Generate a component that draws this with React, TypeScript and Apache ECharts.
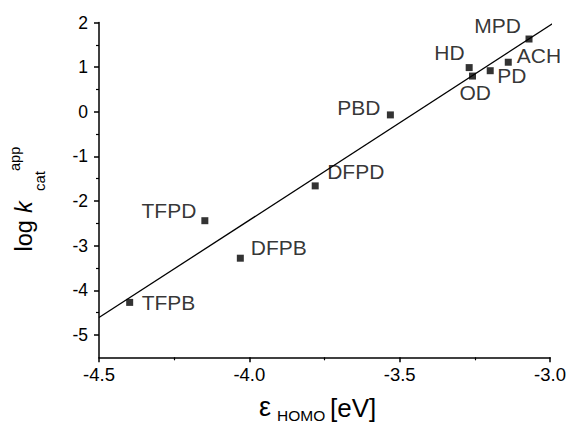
import React, { useEffect, useRef } from 'react';
import * as echarts from 'echarts';

// ---- data ----
const compounds = ['TFPB', 'TFPD', 'DFPB', 'DFPD', 'PBD', 'HD', 'OD', 'PD', 'ACH', 'MPD'];
const eHomo = [-4.398, -4.148, -4.03, -3.781, -3.531, -3.269, -3.258, -3.199, -3.139, -3.07];
const logKcat = [-4.27, -2.44, -3.28, -1.66, -0.07, 0.99, 0.8, 0.92, 1.11, 1.63];

// linear fit line end points
const fitX = [-4.5, -2.99];
const fitY = [-4.61, 1.98];

// axis ticks
const yMajorTicks = [-5, -4, -3, -2, -1, 0, 1, 2];
const yMinorTicks = [-4.5, -3.5, -2.5, -1.5, -0.5, 0.5, 1.5];

// label placement (layout only): [align, dx, dy] relative to the point
const labelPlacement: [string, number, number][] = [
  ['left', 12, 0],
  ['right', -8.5, -10],
  ['left', 10.5, -11],
  ['left', 12, -14],
  ['right', -10, -7],
  ['right', -4.5, -15],
  ['left', -13, 16],
  ['left', 7, 5],
  ['left', 8.5, -7],
  ['right', -8, -14],
];

const FONT = '"Liberation Sans", Arial, Helvetica, sans-serif';

export default function App() {
  const ref = useRef<HTMLDivElement>(null);

  useEffect(() => {
    if (!ref.current) return;
    const chart = echarts.init(ref.current, undefined, { renderer: 'svg' });

    const scatterData = compounds.map((name, i) => ({
      name,
      value: [eHomo[i], logKcat[i]],
      label: {
        align: labelPlacement[i][0],
        offset: [labelPlacement[i][1], labelPlacement[i][2]],
      },
    }));

    const axisLineStyle = { color: '#000', width: 1.5 };

    const txt = (text: string, x: number, y: number, size: number, rot = 0, italic = false) => ({
      type: 'text',
      x,
      y,
      rotation: rot,
      silent: true,
      style: {
        text,
        fontSize: size,
        fontFamily: FONT,
        fontStyle: italic ? 'italic' : 'normal',
        fill: '#000',
        align: 'left',
        textAlign: 'left',
        verticalAlign: 'middle',
        textVerticalAlign: 'middle',
      },
    });

    chart.setOption({
      animation: false,
      backgroundColor: '#fff',
      grid: { left: 99, right: 18, top: 22.5, bottom: 66.7, containLabel: false },
      xAxis: {
        type: 'value',
        min: -4.5,
        max: -3.0,
        interval: 0.5,
        splitLine: { show: false },
        axisLine: { onZero: false, lineStyle: axisLineStyle },
        axisTick: { inside: false, length: 5, lineStyle: axisLineStyle },
        minorTick: { show: true, splitNumber: 2, length: 3, lineStyle: { color: '#000', width: 1.2 } },
        minorSplitLine: { show: false },
        axisLabel: {
          formatter: (v: number) => v.toFixed(1),
          fontSize: 18.5,
          fontFamily: FONT,
          color: '#000',
          margin: 8,
        },
      },
      yAxis: [
        {
          type: 'value',
          min: -5.5,
          max: 2,
          position: 'left',
          splitLine: { show: false },
          axisLine: { show: true, onZero: false, lineStyle: axisLineStyle },
          axisTick: { show: true, inside: false, length: 5, lineStyle: axisLineStyle, customValues: yMajorTicks },
          axisLabel: {
            customValues: yMajorTicks,
            formatter: (v: number) => String(v),
            fontSize: 17.5,
            fontFamily: FONT,
            color: '#000',
            margin: 11,
          },
        },
        {
          type: 'value',
          min: -5.5,
          max: 2,
          position: 'left',
          offset: 0,
          splitLine: { show: false },
          axisLine: { show: false, onZero: false },
          axisTick: { show: true, inside: false, length: 3, lineStyle: { color: '#000', width: 1.2 }, customValues: yMinorTicks },
          axisLabel: { show: false },
        },
      ],
      graphic: [
        // y axis title: log k_cat^app
        txt('log', 23.8, 251.5, 23.5, Math.PI / 2),
        txt('k', 24, 213, 23.5, Math.PI / 2, true),
        txt('cat', 39.8, 191, 15, Math.PI / 2),
        txt('app', 14.6, 171, 14.5, Math.PI / 2),
        // x axis title: ε HOMO [eV]
        txt('ε', 259, 407.3, 27),
        txt('HOMO', 277, 415.3, 15.5),
        txt('[eV]', 330, 408, 26),
      ],
      series: [
        {
          type: 'line',
          data: fitX.map((x, i) => [x, fitY[i]]),
          showSymbol: false,
          symbol: 'none',
          lineStyle: { color: '#000', width: 1.3 },
          z: 1,
          silent: true,
        },
        {
          type: 'scatter',
          data: scatterData,
          symbol: 'rect',
          symbolSize: 7,
          itemStyle: { color: '#000' },
          z: 2,
          label: {
            show: true,
            position: 'inside',
            formatter: '{b}',
            fontSize: 21,
            fontFamily: FONT,
            color: '#000',
            verticalAlign: 'middle',
          },
        },
      ],
    });

    return () => chart.dispose();
  }, []);

  return (
    <div
      ref={ref}
      style={{ position: 'fixed', left: 0, top: 0, width: 569, height: 424, background: '#fff' }}
    />
  );
}
